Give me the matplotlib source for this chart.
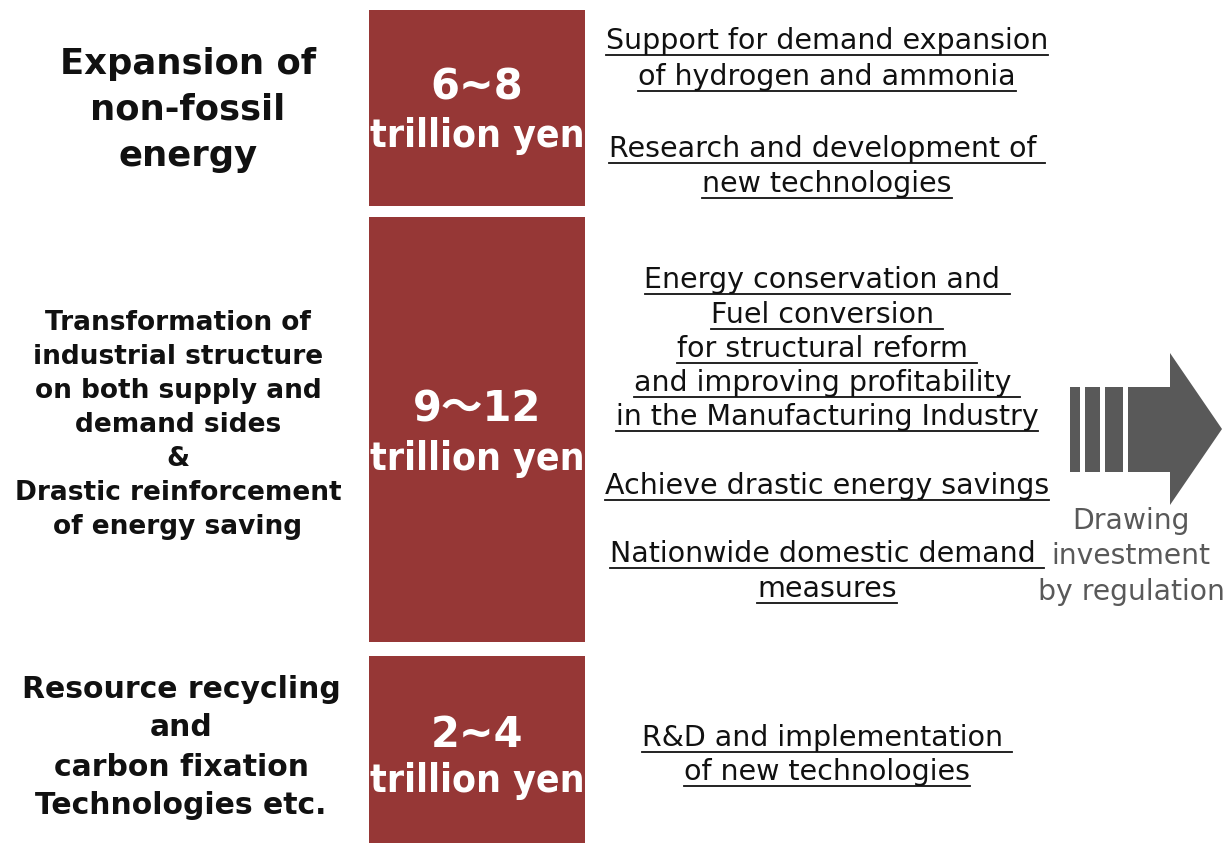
import matplotlib.pyplot as plt
from matplotlib.patches import Rectangle, Polygon

# themes on the left, budget per theme, and the measures on the right
themes = [
    ["Expansion of", "non-fossil", "energy"],
    ["Transformation of", "industrial structure", "on both supply and",
     "demand sides", "&", "Drastic reinforcement", "of energy saving"],
    ["Resource recycling", "and", "carbon fixation", "Technologies etc."],
]
amounts = ["6~8", "9～12", "2~4"]
unit = "trillion yen"
measures = [
    [["Support for demand expansion", "of hydrogen and ammonia"],
     ["Research and development of ", "new technologies"]],
    [["Energy conservation and ", "Fuel conversion ", "for structural reform ",
      "and improving profitability ", "in the Manufacturing Industry"],
     ["Achieve drastic energy savings"],
     ["Nationwide domestic demand ", "measures"]],
    [["R&D and implementation ", "of new technologies"]],
]
arrow_label = ["Drawing", "investment", "by regulation"]

# layout in pixel units (y downwards)
W, H = 1227, 843
box_x0, box_x1 = 369, 585
box_y = [(10, 206), (217, 642), (656, 843)]
theme_x = [188, 178, 181]
theme_y0 = [64, 323, 689]
theme_step = [46, 34, 39]
theme_size = [25.5, 19, 21.5]
amount_y = [(88, 136), (410, 459), (735, 781)]
measure_x = 827
measure_y = [[[41, 77], [149, 184]],
             [[280, 315, 349, 383, 417], [486], [554, 589]],
             [[738, 772]]]

RED = "#963736"
GREY = "#595959"

fig = plt.figure(figsize=(W / 100, H / 100), dpi=100)
ax = fig.add_axes([0, 0, 1, 1])
ax.set_xlim(0, W)
ax.set_ylim(H, 0)
ax.axis("off")

for i, (y0, y1) in enumerate(box_y):
    ax.add_patch(Rectangle((box_x0, y0), box_x1 - box_x0, y1 - y0,
                           facecolor=RED, edgecolor="none"))
    cx = (box_x0 + box_x1) / 2
    ax.text(cx, amount_y[i][0], amounts[i], ha="center", va="center",
            color="white", fontsize=30, fontweight="bold",
            family=["DejaVu Sans", "Noto Sans CJK JP"])
    ax.text(cx, amount_y[i][1], unit, ha="center", va="center",
            color="white", fontsize=28, fontweight="bold",
            family="DejaVu Sans", stretch="condensed")

    for k, line in enumerate(themes[i]):
        ax.text(theme_x[i], theme_y0[i] + k * theme_step[i], line,
                ha="center", va="center", fontsize=theme_size[i],
                fontweight="bold", color="#111111")

# measures, underlined
under = []
for i, groups in enumerate(measures):
    for g, lines in enumerate(groups):
        for k, line in enumerate(lines):
            t = ax.text(measure_x, measure_y[i][g][k], line, ha="center",
                        va="center", fontsize=20.5, color="#111111")
            under.append(t)

fig.canvas.draw()
r = fig.canvas.get_renderer()
inv = ax.transData.inverted()
for t in under:
    bb = t.get_window_extent(r)
    (xa, ya), (xb, yb) = inv.transform([(bb.x0, bb.y0), (bb.x1, bb.y1)])
    ax.plot([xa, xb], [ya, ya], color="#111111", lw=1.3)

# striped arrow
for xa, xb in [(1070, 1080), (1085, 1100), (1105, 1123), (1128, 1171)]:
    ax.add_patch(Rectangle((xa, 387), xb - xa, 85, facecolor=GREY,
                           edgecolor="none"))
ax.add_patch(Polygon([(1170, 353), (1222, 429), (1170, 505)],
                     closed=True, facecolor=GREY, edgecolor="none"))
for k, line in enumerate(arrow_label):
    ax.text(1131, 521 + k * 35.5, line, ha="center", va="center",
            fontsize=20.3, color=GREY)

fig.savefig("out.png", dpi=100)
